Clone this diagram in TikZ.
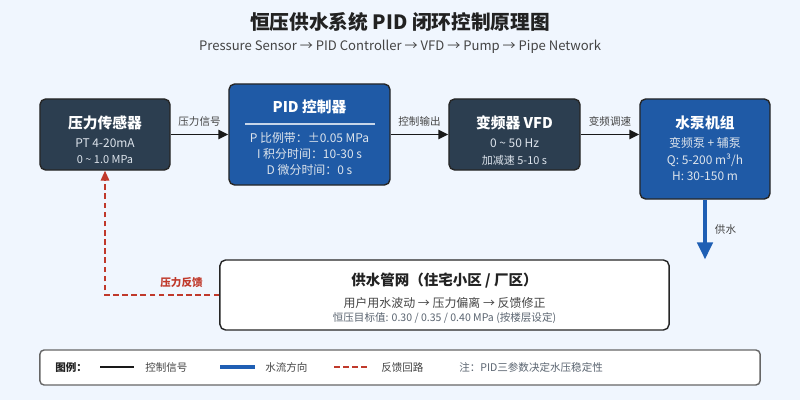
\documentclass[tikz,border=0pt]{standalone}
\usepackage{fontspec}
\setmainfont{Noto Sans CJK SC}
\usetikzlibrary{positioning, calc, arrows.meta}

\definecolor{bgcol}{HTML}{F0F6FE}
\definecolor{darkfill}{HTML}{2C3E50}
\definecolor{bluefill}{HTML}{1F5AA6}
\definecolor{flowblue}{HTML}{1F5FB4}
\definecolor{fbred}{HTML}{C0392B}
\definecolor{inktxt}{HTML}{222222}
\definecolor{softtxt}{HTML}{444444}
\definecolor{greytxt}{HTML}{5A6470}
\definecolor{lighttxt}{HTML}{DDE4EC}

\begin{document}
\begin{tikzpicture}[
  x=0.025cm, y=-0.025cm,
  >={Triangle[length=7pt, width=6.5pt]},
  darkbox/.style  = {draw=black!85, line width=1pt, rounded corners=4pt, fill=darkfill},
  bluebox/.style  = {draw=black!85, line width=1pt, rounded corners=4pt, fill=bluefill},
  netbox/.style   = {draw=black!85, line width=1pt, rounded corners=4pt, fill=white},
  boxtitle/.style = {text=white, font=\fontsize{10.5}{12}\selectfont\bfseries, inner sep=0pt},
  boxline/.style  = {text=lighttxt, font=\fontsize{8.5}{10}\selectfont, inner sep=0pt},
  boxsmall/.style = {text=lighttxt, font=\fontsize{7.8}{9}\selectfont, inner sep=0pt},
  sig/.style      = {->, draw=black!90, line width=1.4pt},
  siglabel/.style = {font=\fontsize{7.5}{9}\selectfont, text=softtxt, inner sep=0pt},
  legtext/.style  = {font=\fontsize{7.5}{9}\selectfont, text=softtxt, inner sep=0pt, anchor=west},
]
  % ---- background and heading ----
  \fill[bgcol] (0,0) rectangle (800,400);
  \node[font=\fontsize{14}{16}\selectfont\bfseries, text=inktxt] (title) at (400,22)
    {恒压供水系统 PID 闭环控制原理图};
  \node[font=\fontsize{9.3}{11}\selectfont, text=softtxt] (subtitle) at (400,47)
    {Pressure Sensor → PID Controller → VFD → Pump → Pipe Network};

  % ---- blocks of the loop ----
  \node[darkbox, minimum width=3.25cm,  minimum height=1.775cm] (sensor) at (105,134.5)   {};
  \node[bluebox, minimum width=4.025cm, minimum height=2.525cm] (pid)    at (309.5,134.5) {};
  \node[darkbox, minimum width=3.275cm, minimum height=1.775cm] (vfd)    at (514.5,134.5) {};
  \node[bluebox, minimum width=3.25cm,  minimum height=2.5cm]   (pump)   at (705,149)     {};
  \node[netbox,  minimum width=11.225cm, minimum height=1.75cm] (net)    at (444.5,295)   {};

  % sensor text
  \node[boxtitle] (sensorT) at (105,123) {压力传感器};
  \node[boxline]  (sensorA) at (105,143) {PT 4-20mA};
  \node[boxsmall] (sensorB) at (105,160) {0 \textasciitilde{} 1.0 MPa};

  % controller text, with a rule under the heading
  \node[boxtitle] (pidT) at (309.5,107) {PID 控制器};
  \draw[white!75!bluefill, line width=1pt] (245,124) -- (375,124);
  \node[boxline]  (pidP) at (309.5,138) {P 比例带：±0.05 MPa};
  \node[boxline]  (pidI) at (309.5,154) {I 积分时间：10-30 s};
  \node[boxline]  (pidD) at (309.5,170) {D 微分时间：0 s};

  % drive text
  \node[boxtitle] (vfdT) at (514.5,123) {变频器 VFD};
  \node[boxline]  (vfdA) at (514.5,143) {0 \textasciitilde{} 50 Hz};
  \node[boxsmall] (vfdB) at (514.5,160) {加减速 5-10 s};

  % pump text
  \node[boxtitle] (pumpT) at (705,123) {水泵机组};
  \node[boxline]  (pumpA) at (705,143) {变频泵 + 辅泵};
  \node[boxline]  (pumpB) at (705,160) {Q: 5-200 m³/h};
  \node[boxline]  (pumpC) at (705,176) {H: 30-150 m};

  % network text
  \node[font=\fontsize{10.3}{12}\selectfont\bfseries, text=inktxt, inner sep=0pt] (netT) at (444.5,281)
    {供水管网（住宅小区 / 厂区）};
  \node[font=\fontsize{8.5}{10}\selectfont, text=softtxt, inner sep=0pt] (netA) at (444.5,303)
    {用户用水波动 → 压力偏离 → 反馈修正};
  \node[font=\fontsize{7.5}{9}\selectfont, text=greytxt, inner sep=0pt] (netB) at (444.5,318)
    {恒压目标值: 0.30 / 0.35 / 0.40 MPa (按楼层设定)};

  % ---- connectors ----
  \draw[sig] (sensor) -- node[siglabel, above=5pt]{压力信号} (pid);
  \draw[sig] (pid)    -- node[siglabel, above=5pt]{控制输出} (vfd);
  \draw[sig] (vfd)    -- node[siglabel, above=5pt]{变频调速} (vfd.east -| pump.west);

  \coordinate (flowend) at (pump.south |- net.north);
  \draw[flowblue, line width=2.2pt, -{Triangle[length=12pt, width=11pt]}]
    (pump.south) -- node[siglabel, right=6pt]{供水} (flowend);

  \draw[fbred, line width=1.2pt, dash pattern=on 4pt off 2.5pt, -{Triangle[length=7pt, width=6pt]}]
    (net.west) -| node[pos=0.165, above=5pt, inner sep=0pt,
      font=\fontsize{7.5}{9}\selectfont\bfseries, text=fbred]{压力反馈} (sensor.south);

  % ---- legend ----
  \node[draw=black!60, line width=1pt, rounded corners=3pt, fill=white,
        minimum width=18cm, minimum height=0.875cm] (legend) at (400,367.5) {};
  \node[legtext, font=\fontsize{7.5}{9}\selectfont\bfseries, text=inktxt] (legT) at (55,367.5) {图例：};
  \coordinate (kA) at (100,367);
  \coordinate (kB) at (134,367);
  \draw[black!90, line width=1.5pt] (kA) -- (kB);
  \node[legtext] (legK) at (145,367.5) {控制信号};
  \coordinate (wA) at (220,367);
  \coordinate (wB) at (255,367);
  \draw[flowblue, line width=2.4pt] (wA) -- (wB);
  \node[legtext] (legW) at (265,367.5) {水流方向};
  \coordinate (fA) at (334,367);
  \coordinate (fB) at (367,367);
  \draw[fbred, line width=1.5pt, dash pattern=on 4pt off 2.5pt] (fA) -- (fB);
  \node[legtext] (legF) at (381,367.5) {反馈回路};
  \node[legtext, text=greytxt] (legN) at (459,367.5) {注：PID三参数决定水压稳定性};
\end{tikzpicture}
\end{document}
